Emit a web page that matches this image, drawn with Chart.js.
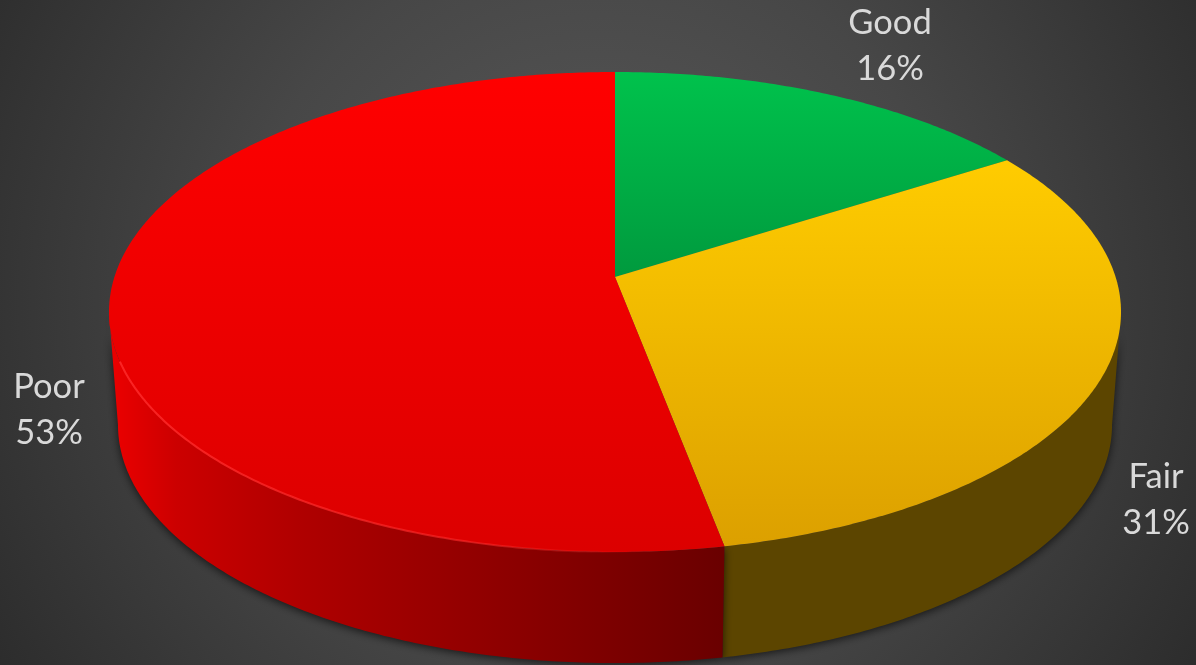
<!DOCTYPE html>
<html>
<head>
<meta charset="utf-8">
<title>Condition</title>
<script src="https://cdn.jsdelivr.net/npm/chart.js@4"></script>
<style>
    html, body { margin: 0; padding: 0; background: #333; overflow: hidden; }
    canvas { display: block; }
</style>
</head>
<body>
<canvas id="myChart" width="1196" height="665"></canvas>
<script>
var categories = ['Good', 'Fair', 'Poor'];
var shares = [16, 31, 53];

// flat colours for the slices, top face gradients and side wall gradients
var sliceColors = ['#00b050', '#ffc000', '#ff0000'];
var topShades = [['#00c24c', '#009a3e'], ['#ffcc00', '#dca000'], ['#ff0000', '#dc0000']];
var wallStops = [
    [],
    [[0, '#604800'], [1, '#5c4500']],
    [[0, '#ea0000'], [0.1, '#cc0000'], [0.3, '#b00000'], [0.45, '#a00000'], [1, '#6a0000']]
];

// centre of each label block
var labelSpots = [[890, 46], [1156, 500], [49, 410]];

// perspective of the two circles of the disc: top face and base
var topPlane = { x: 615, y: 277, a: 500.6, b: 234.9, k: -0.1458 };
var basePlane = { x: 615, y: 390.3, a: 491.7, b: 233, k: -0.1458 };

function project(plane, angle) {
    var w = 1 + plane.k * Math.sin(angle);
    return [plane.x + plane.a * Math.cos(angle) / w, plane.y + plane.b * Math.sin(angle) / w];
}

function ringPath(ctx, plane, from, to) {
    var steps = Math.max(2, Math.ceil(Math.abs(to - from) / 0.01));
    for (var i = 0; i <= steps; i++) {
        var p = project(plane, from + (to - from) * i / steps);
        ctx.lineTo(p[0], p[1]);
    }
}

// the wall only shows between the two points where the outline is vertical
var wallFrom = 8.4 * Math.PI / 180;
var wallTo = 171.6 * Math.PI / 180;

// chart.js works out the arc angles, this only changes how they get painted
var tiltedPie = {
    id: 'tiltedPie',
    beforeDraw: function(chart) {
        var ctx = chart.ctx;
        var bg = ctx.createRadialGradient(598, 300, 0, 598, 300, 720);
        bg.addColorStop(0, '#5a5a5a');
        bg.addColorStop(0.5, '#474747');
        bg.addColorStop(1, '#2b2b2b');
        ctx.fillStyle = bg;
        ctx.fillRect(0, 0, chart.width, chart.height);
    },
    beforeDatasetsDraw: function(chart) {
        var ctx = chart.ctx;
        var arcs = chart.getDatasetMeta(0).data;

        // side walls
        arcs.forEach(function(arc, i) {
            var from = Math.max(arc.startAngle, wallFrom);
            var to = Math.min(arc.endAngle, wallTo);
            if (from >= to) return;
            var grad = ctx.createLinearGradient(115, 0, 722, 0);
            wallStops[i].forEach(function(s) { grad.addColorStop(s[0], s[1]); });
            ctx.save();
            ctx.shadowColor = 'rgba(0, 0, 0, 0.65)';
            ctx.shadowBlur = 9;
            ctx.shadowOffsetY = 2;
            ctx.fillStyle = grad;
            ctx.beginPath();
            ringPath(ctx, topPlane, from, to);
            ringPath(ctx, basePlane, to, from);
            ctx.closePath();
            ctx.fill();
            ctx.restore();
        });

        // top faces
        arcs.forEach(function(arc, i) {
            var ys = [];
            for (var a = arc.startAngle; a <= arc.endAngle; a += 0.02) ys.push(project(topPlane, a)[1]);
            ys.push(topPlane.y);
            var grad = ctx.createLinearGradient(0, Math.min.apply(null, ys), 0, Math.max.apply(null, ys));
            grad.addColorStop(0, topShades[i][0]);
            grad.addColorStop(1, topShades[i][1]);
            ctx.fillStyle = grad;
            ctx.beginPath();
            ctx.moveTo(topPlane.x, topPlane.y);
            ringPath(ctx, topPlane, arc.startAngle, arc.endAngle);
            ctx.closePath();
            ctx.fill();
        });

        // bright bevel on the red front edge, fading towards the gold slice
        var poor = arcs[2];
        var bevel = ctx.createLinearGradient(108, 0, 640, 0);
        bevel.addColorStop(0, 'rgba(255, 40, 40, 0.9)');
        bevel.addColorStop(0.7, 'rgba(255, 40, 40, 0.6)');
        bevel.addColorStop(1, 'rgba(255, 40, 40, 0)');
        ctx.save();
        ctx.strokeStyle = bevel;
        ctx.lineWidth = 2;
        ctx.filter = 'blur(0.6px)';
        ctx.beginPath();
        ringPath(ctx, topPlane, poor.startAngle + 0.1, 160 * Math.PI / 180);
        ctx.stroke();
        ctx.restore();

        return false;
    },
    // returning false above skips the dataset hooks, so the labels go here
    afterDraw: function(chart) {
        var ctx = chart.ctx;
        ctx.fillStyle = '#d9d9d9';
        ctx.font = '34.5px Lato';
        ctx.textAlign = 'center';
        ctx.textBaseline = 'middle';
        categories.forEach(function(name, i) {
            ctx.fillText(name, labelSpots[i][0], labelSpots[i][1] - 23);
            ctx.fillText(shares[i] + '%', labelSpots[i][0], labelSpots[i][1] + 23);
        });
    }
};

var ctx = document.getElementById('myChart').getContext('2d');
var myChart = new Chart(ctx, {
    type: 'pie',
    data: {
        labels: categories,
        datasets: [{ data: shares, backgroundColor: sliceColors, borderWidth: 0 }]
    },
    options: {
        responsive: false,
        animation: false,
        plugins: { legend: { display: false }, tooltip: { enabled: false } }
    },
    plugins: [tiltedPie]
});
</script>
</body>
</html>
